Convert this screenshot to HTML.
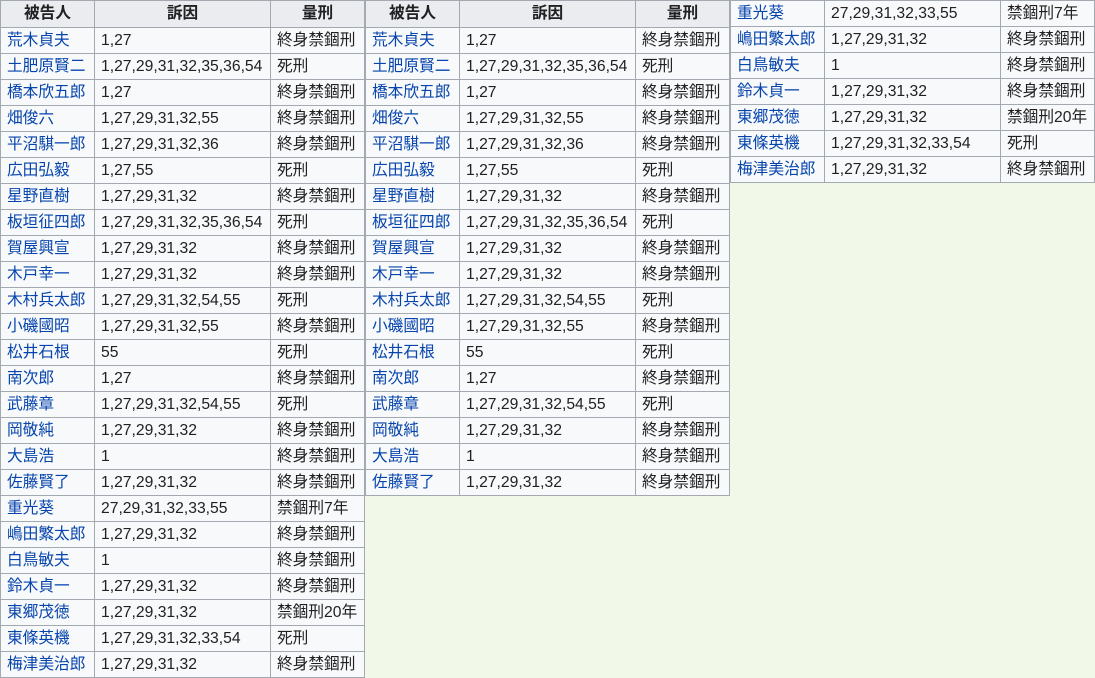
<!DOCTYPE html>
<html><head><meta charset="utf-8"><style>
body{margin:0;width:1095px;height:677px;background:#f1f8e8;overflow:hidden;position:relative;font-family:"Liberation Sans","Noto Sans CJK JP",sans-serif;font-size:15.7px;color:#202122}
table{position:absolute;border-collapse:collapse;table-layout:fixed;background:#f8f9fa}
td,th{border:1px solid #a2a9b1;padding:0 6px;white-space:nowrap;overflow:hidden;line-height:18px}
tr{height:26px}
tr.h{height:27px}
th{background:#eaecf0;font-weight:bold;text-align:center}
td.n{color:#0645ad}
</style></head><body>
<table id="t1" style="left:0;top:0"></table>
<table id="t2" style="left:365px;top:0"></table>
<table id="t3" style="left:730px;top:0"></table>
<script>
const names=["荒木貞夫","土肥原賢二","橋本欣五郎","畑俊六","平沼騏一郎","広田弘毅","星野直樹","板垣征四郎","賀屋興宣","木戸幸一","木村兵太郎","小磯國昭","松井石根","南次郎","武藤章","岡敬純","大島浩","佐藤賢了","重光葵","嶋田繁太郎","白鳥敏夫","鈴木貞一","東郷茂徳","東條英機","梅津美治郎"];
const counts=["1,27","1,27,29,31,32,35,36,54","1,27","1,27,29,31,32,55","1,27,29,31,32,36","1,27,55","1,27,29,31,32","1,27,29,31,32,35,36,54","1,27,29,31,32","1,27,29,31,32","1,27,29,31,32,54,55","1,27,29,31,32,55","55","1,27","1,27,29,31,32,54,55","1,27,29,31,32","1","1,27,29,31,32","27,29,31,32,33,55","1,27,29,31,32","1","1,27,29,31,32","1,27,29,31,32","1,27,29,31,32,33,54","1,27,29,31,32"];
const sentences=["終身禁錮刑","死刑","終身禁錮刑","終身禁錮刑","終身禁錮刑","死刑","終身禁錮刑","死刑","終身禁錮刑","終身禁錮刑","死刑","終身禁錮刑","死刑","終身禁錮刑","死刑","終身禁錮刑","終身禁錮刑","終身禁錮刑","禁錮刑7年","終身禁錮刑","終身禁錮刑","終身禁錮刑","禁錮刑20年","死刑","終身禁錮刑"];
function build(id,from,to,header){
  const t=document.getElementById(id);
  const cg=document.createElement('colgroup');
  [94,176,94].forEach(w=>{const c=document.createElement('col');c.style.width=w+'px';cg.appendChild(c);});
  t.appendChild(cg);
  t.style.width='364px';
  if(header){
    const tr=document.createElement('tr');tr.className='h';
    
    
    ["被告人","訴因","量刑"].forEach(h=>{const th=document.createElement('th');th.textContent=h;
      
      
      tr.appendChild(th);});
    t.appendChild(tr);
  }
  for(let i=from;i<to;i++){
    const tr=document.createElement('tr');
    
    
    const a=document.createElement('td');a.className='n';a.textContent=names[i];
    
    
    const b=document.createElement('td');b.textContent=counts[i];
    
    
    const c=document.createElement('td');c.textContent=sentences[i];
    
    
    tr.append(a,b,c);t.appendChild(tr);
  }
}
build('t1',0,25,true);
build('t2',0,18,true);
build('t3',18,25,false);
</script>
</body></html>
